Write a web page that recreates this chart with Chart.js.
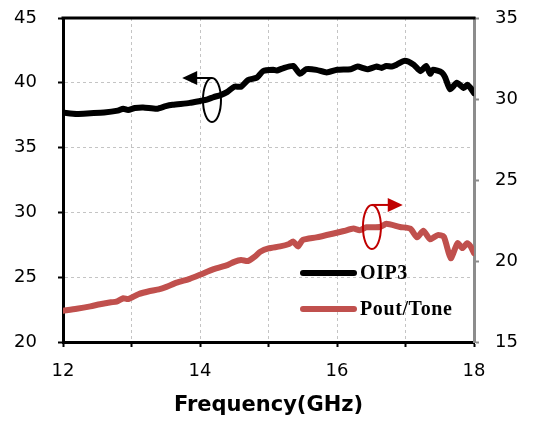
<!DOCTYPE html>
<html>
<head>
<meta charset="utf-8">
<script src="https://cdn.jsdelivr.net/npm/chart.js@4"></script>
<style>
html, body { margin: 0; padding: 0; background: #fff; }
</style>
</head>
<body>
<canvas id="myChart" width="543" height="422"></canvas>
<script>
// OIP3 (left axis, dBm)
var oipFreq = [12.0, 12.2, 12.4, 12.6, 12.8, 12.88, 12.95, 13.05, 13.17, 13.37, 13.5, 13.6, 13.85, 14.0, 14.1, 14.2, 14.3, 14.4, 14.5, 14.6, 14.7, 14.83, 14.92, 15.07, 15.12, 15.2, 15.36, 15.46, 15.55, 15.7, 15.85, 16.0, 16.2, 16.3, 16.44, 16.58, 16.65, 16.72, 16.8, 16.87, 16.99, 17.12, 17.22, 17.3, 17.36, 17.4, 17.53, 17.58, 17.65, 17.75, 17.85, 17.9, 17.95, 18.0];
var oipVals = [37.7, 37.6, 37.65, 37.7, 37.85, 38.0, 37.9, 38.05, 38.1, 38.0, 38.2, 38.3, 38.45, 38.6, 38.7, 38.9, 39.05, 39.3, 39.7, 39.7, 40.2, 40.4, 40.9, 41.0, 40.95, 41.1, 41.3, 40.7, 41.05, 41.0, 40.8, 41.0, 41.05, 41.25, 41.05, 41.25, 41.15, 41.3, 41.25, 41.4, 41.7, 41.4, 40.9, 41.3, 40.7, 41.0, 40.8, 40.4, 39.5, 40.0, 39.6, 39.85, 39.6, 39.2];

// Pout/Tone (right axis, dBm)
var poutFreq = [12.0, 12.2, 12.4, 12.54, 12.7, 12.78, 12.88, 12.95, 13.1, 13.27, 13.4, 13.51, 13.66, 13.85, 14.0, 14.2, 14.4, 14.5, 14.6, 14.7, 14.8, 14.88, 15.0, 15.17, 15.3, 15.36, 15.43, 15.5, 15.7, 15.95, 16.1, 16.24, 16.33, 16.43, 16.63, 16.72, 16.92, 17.07, 17.17, 17.26, 17.36, 17.47, 17.56, 17.66, 17.76, 17.83, 17.9, 17.95, 18.0];
var poutVals = [16.93, 17.05, 17.2, 17.33, 17.45, 17.49, 17.7, 17.65, 17.95, 18.15, 18.25, 18.4, 18.66, 18.9, 19.15, 19.5, 19.75, 19.95, 20.06, 20.0, 20.27, 20.57, 20.78, 20.9, 21.05, 21.2, 20.9, 21.3, 21.46, 21.7, 21.85, 22.0, 21.9, 22.08, 22.1, 22.3, 22.1, 22.0, 21.46, 21.87, 21.34, 21.6, 21.5, 20.17, 21.1, 20.8, 21.1, 20.9, 20.48];

var seriesNames = ["OIP3", "Pout/Tone"];
var seriesColors = ["#000000", "#C0504D"];

function toPoints(xs, ys) {
  return xs.map(function (x, i) { return { x: x, y: ys[i] }; });
}

var tickFont = { family: "DejaVu Sans", size: 18 };

function fixWidth(w) {
  return function (scale) {
    scale.width = w;
    scale.paddingTop = 0;
    scale.paddingBottom = 0;
  };
}

// top frame line, in-plot legend and the two axis marker annotations
var extras = {
  id: "extras",
  afterDatasetsDraw: function (chart) {
    var c = chart.ctx, a = chart.chartArea, s = chart.scales;
    c.save();
    c.strokeStyle = "#000";
    c.lineWidth = 3;
    c.beginPath();
    c.moveTo(a.left - 1.5, a.top);
    c.lineTo(a.right + 1.5, a.top);
    c.stroke();

    function marker(color, fx, fy, ax, ay, tipX, yScale) {
      var cx = s.x.getPixelForValue(fx), cy = yScale.getPixelForValue(fy);
      var lx = s.x.getPixelForValue(ax), ly = yScale.getPixelForValue(ay);
      var tx = s.x.getPixelForValue(tipX);
      c.strokeStyle = color;
      c.fillStyle = color;
      c.lineWidth = 2;
      c.beginPath();
      c.ellipse(cx, cy, 9, 22, 0, 0, Math.PI * 2);
      c.stroke();
      var dir = tx > lx ? 1 : -1;
      c.beginPath();
      c.moveTo(lx, ly);
      c.lineTo(tx - dir * 14, ly);
      c.stroke();
      c.beginPath();
      c.moveTo(tx, ly);
      c.lineTo(tx - dir * 15, ly - 7);
      c.lineTo(tx - dir * 15, ly + 7);
      c.closePath();
      c.fill();
    }
    marker("#000", 14.175, 38.67, 14.175, 40.37, 13.74, s.y);
    marker("#C00000", 16.51, 22.1, 16.51, 23.46, 16.96, s.y1);

    // legend
    var lx0 = 303, lx1 = 354, rows = [273, 309];
    c.font = "bold 20px 'Liberation Serif'";
    c.letterSpacing = "0.6px";
    c.textBaseline = "middle";
    c.lineCap = "round";
    rows.forEach(function (y, i) {
      c.strokeStyle = seriesColors[i];
      c.lineWidth = 6;
      c.beginPath();
      c.moveTo(lx0, y);
      c.lineTo(lx1, y);
      c.stroke();
      c.fillStyle = "#000";
      c.fillText(seriesNames[i], 360, y + 1);
    });
    c.restore();
  }
};

var ctx = document.getElementById("myChart");

var chart = new Chart(ctx, {
  type: "line",
  data: {
    datasets: [
      {
        label: seriesNames[0],
        data: toPoints(oipFreq, oipVals),
        yAxisID: "y",
        borderColor: seriesColors[0],
        borderWidth: 6,
        pointRadius: 0,
        tension: 0.2,
        borderCapStyle: "round",
        borderJoinStyle: "round"
      },
      {
        label: seriesNames[1],
        data: toPoints(poutFreq, poutVals),
        yAxisID: "y1",
        borderColor: seriesColors[1],
        borderWidth: 6,
        pointRadius: 0,
        tension: 0.2,
        borderCapStyle: "round",
        borderJoinStyle: "round"
      }
    ]
  },
  options: {
    responsive: false,
    animation: false,
    layout: { padding: { top: 18, left: 0, right: 0, bottom: 0 } },
    plugins: {
      legend: { display: false },
      tooltip: { enabled: false }
    },
    scales: {
      x: {
        type: "linear",
        min: 12,
        max: 18,
        afterFit: function (scale) { scale.height = 80; },
        ticks: {
          stepSize: 1,
          autoSkip: false,
          maxRotation: 0,
          padding: 14,
          color: "#000",
          font: tickFont,
          callback: function (v) { return v % 2 === 0 ? v : ""; }
        },
        grid: { color: "#c4c4c4", lineWidth: 1, tickColor: "#000", tickLength: 5, tickWidth: 2 },
        border: { color: "#000", width: 3, dash: [3, 3] },
        title: {
          display: true,
          text: "Frequency(GHz)",
          color: "#000",
          font: { family: "DejaVu Sans", size: 21, weight: "bold" },
          padding: { top: 0, bottom: 4 }
        }
      },
      y: {
        position: "left",
        min: 20,
        max: 45,
        afterFit: fixWidth(63),
        ticks: { stepSize: 5, padding: 21, color: "#000", font: tickFont },
        grid: { color: "#c4c4c4", lineWidth: 1, tickColor: "#000", tickLength: 5, tickWidth: 2 },
        border: { color: "#000", width: 3, dash: [3, 3] }
      },
      y1: {
        position: "right",
        min: 15,
        max: 35,
        afterFit: fixWidth(69),
        ticks: { stepSize: 5, padding: 16, color: "#000", font: tickFont },
        grid: { drawOnChartArea: false, tickColor: "#8c8c8c", tickLength: 5, tickWidth: 2 },
        border: { color: "#8c8c8c", width: 3 }
      }
    }
  },
  plugins: [extras]
});
</script>
</body>
</html>
